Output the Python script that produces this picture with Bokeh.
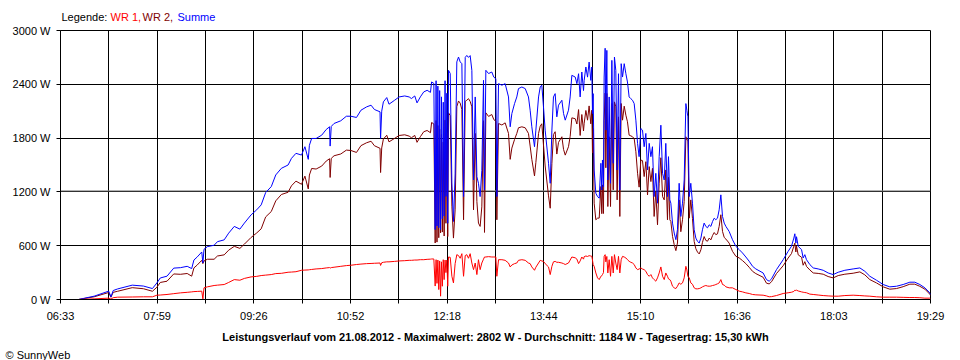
from bokeh.plotting import figure
from bokeh.layouts import column
from bokeh.models import Range1d, FixedTicker, Span, Title
from bokeh.core.properties import value
from bokeh.embed import file_html
from bokeh.resources import INLINE

# minutes after 06:33
t_min = [
    16, 30, 43, 45, 47, 51, 64, 74, 82, 86, 89, 95, 101, 107, 113, 117, 119, 122, 126, 127, 128, 131, 137, 140, 146, 150, 155,
    160, 164, 170, 175, 179, 183, 188, 192, 197, 203, 206, 210, 215, 218, 221, 222, 224, 228, 233, 237, 240, 240.5, 241.5, 244,
    250, 255, 259, 264, 268, 273, 277, 280, 285, 285.5, 286.5, 288, 291, 293, 298, 302, 307, 311,
    313, 316, 318, 321, 324, 327, 330, 331, 333, 334.2,
    335, 335.8, 336.6, 337.4, 338.2, 339, 339.8, 340.6, 341.4, 342.2,
    343, 343.8, 344.6, 345.4, 346.1, 347.6, 349.1, 350.5, 352, 353.5,
    355, 356.5, 358, 359.5, 361, 362.4, 363.9, 365.4, 366.9, 368.4,
    369.9, 371.4, 372.8, 374.3, 375.8, 377.3, 378.2, 379.4, 381.8, 384.7,
    386.5, 388.3, 389.2, 390.7, 393.7, 396.6, 399.6, 401.1, 402.6, 405,
    407, 408.5, 411.5, 414.5, 417.4, 418.9, 420.4, 422.8, 424, 426.4,
    427.9, 429.3, 430.8, 432.3, 435.3, 436.8, 438.3, 439.7, 441.2, 442.7,
    444.2, 447.2, 448.7, 450.2, 453.1, 454.6, 456.1, 459.1, 460.6, 462.1,
    463.5, 465,
    466.5, 467.1, 468.6, 470.1, 471.5, 473, 473.9, 474.5, 475.1, 476,
    477.5, 479, 480.5, 482, 482.8, 483.4, 484.3, 484.9, 485.8, 486.4,
    487.3, 488.2, 489.4, 490.6, 491.8, 493, 494.1, 495.3, 496.5, 497.7,
    498.9, 500.1, 501.3, 502.8, 504.3, 505.7, 507.2, 508.7, 510.2, 511.7,
    513.2, 514.7, 516.1, 517.6, 519.1, 520.6, 522.1, 523.6, 525.1, 526.6,
    528, 529.5, 531, 532.5, 534, 535.5, 537, 538.5, 539.9, 541.4,
    542.3, 543.5, 544.4, 545.9, 547.4, 548.9, 550.3, 551.8, 553.3, 554.8,
    556.3, 557.8, 558.7, 559.6, 560.8, 562.2, 563.7, 565.2, 566.7, 568.2,
    569.7, 571.2, 572.6, 574.1, 575.6, 577.1, 578.6, 580.1, 581.6, 583.1,
    584.5, 586, 587.5, 589, 590.5, 592, 593.5, 596.4, 599.4, 602.4,
    605.4, 608.3, 611.3, 614.3, 617.3, 620.2,
    626.7, 629.7, 632.1, 634.2, 638.6, 644.6, 649, 652, 654.1, 655,
    655.9, 656.5, 658, 661, 662.4, 663.9, 665.4, 668.4, 671.4, 675.8,
    680.3, 684.7, 689.2, 693.7, 699.6, 707, 713, 717.4, 721.9, 727.8,
    733.8, 739.7, 745.7, 751.6, 757.6, 762, 766.5, 771, 775.4, 776,
]

summe = [
    0, 37, 93, 30, 100, 118, 160, 150, 122, 185, 240, 260, 350, 355, 370, 345, 440, 475, 530, 407, 560, 590, 605, 645, 665, 740, 815,
    785, 852, 944, 1000, 1055, 1193, 1259, 1389, 1463, 1500, 1574, 1630, 1611, 1704, 1563, 1720, 1796, 1796, 1833, 1896, 1926, 1711, 1930, 1963,
    1993, 2044, 2044, 2030, 2111, 2148, 2167, 2119, 2093, 1796, 2100, 2204, 2252, 2178, 2222, 2259, 2270, 2259,
    2241, 2270, 2193, 2260, 2315, 2333, 2310, 2426, 2410, 780,
    2440, 820, 2380, 800, 2330, 780, 2260, 900, 2200, 930,
    2440, 1150, 2300, 850, 2556, 2520, 1300, 870, 1400, 2650,
    2704, 2650, 2630, 1148, 2700, 2722, 2700, 2720, 2556, 1333,
    2259, 1370, 1296, 1148, 1440, 2444, 1222, 2556, 2520, 2537,
    2480, 2463, 1148, 2407, 2390, 2407, 2259, 1926, 2074, 2185,
    2259, 2352, 2370, 2352, 2259, 2111, 1926, 1704, 1889, 2259,
    2370, 2390, 2148, 1889, 1519, 1296, 1889, 2259, 2296, 2037,
    2167, 2222, 2074, 2000, 2111, 2259, 2500, 2481, 2407, 2518,
    2259, 2537,
    2330, 2444, 2593, 2480, 2648, 2444, 2593, 2074, 2296, 1444,
    1185, 1148, 1130, 1519, 1222, 1556, 1259, 2481, 2802, 1889,
    2778, 1333, 2259, 1296, 2667, 1519, 2704, 2556, 1444, 2518,
    1222, 2630, 2481, 2630, 2518, 2426, 2259, 2240, 2222, 2185,
    2000, 1741, 1593, 1907, 1889, 1704, 1852, 1444, 1741, 1593,
    1704, 1148, 1407, 1074, 1593, 1944, 1407, 1333, 1741, 1148,
    1593, 1111, 1074, 852, 741, 667, 778, 1296, 926, 1074,
    1333, 2185, 2110, 2037, 1148, 1296, 1074, 778, 685, 648,
    630, 685, 778, 852, 815, 800, 833, 815, 870, 907,
    890, 907, 1000, 1167, 926, 852, 815, 759, 667, 593,
    556, 519, 474, 426, 370, 341,
    296, 222, 204, 230, 333, 444, 537, 593, 685, 733,
    630, 700, 593, 556, 463, 500, 444, 389, 352, 341,
    326, 296, 278, 304, 326, 341, 352, 315, 259, 215,
    167, 141, 148, 167, 193, 193, 167, 130, 74, 56,
]

wr1 = [
    0, 7, 15, 5, 20, 26, 28, 30, 30, 48, 50, 56, 65, 74, 80, 85, 88, 90, 93, 7, 130, 141, 156, 160, 167, 190, 222,
    215, 235, 252, 258, 267, 272, 278, 289, 292, 304, 306, 310, 326, 328, 330, 332, 335, 341, 345, 352, 356, 350, 356, 360,
    370, 378, 382, 390, 395, 400, 402, 404, 407, 380, 410, 415, 420, 420, 425, 430, 433, 437,
    437, 440, 440, 444, 444, 448, 450, 452, 452, 150,
    444, 180, 440, 111, 430, 37, 420, 148, 444, 222,
    440, 300, 440, 148, 474, 470, 259, 185, 400, 500,
    490, 460, 511, 259, 490, 500, 460, 511, 407, 333,
    407, 278, 444, 333, 407, 450, 474, 474, 478, 474,
    474, 474, 259, 444, 444, 437, 407, 363, 385, 400,
    407, 437, 444, 437, 407, 400, 363, 326, 360, 407,
    437, 430, 425, 400, 363, 278, 370, 420, 425, 415,
    415, 407, 400, 390, 407, 440, 474, 465, 450, 400,
    430, 474,
    450, 478, 485, 480, 489, 485, 482, 440, 389, 370,
    296, 241, 222, 259, 265, 278, 300, 481, 500, 420,
    480, 296, 444, 259, 481, 296, 500, 407, 333, 481,
    296, 444, 481, 474, 463, 444, 426, 415, 407, 390,
    352, 333, 340, 352, 340, 333, 315, 278, 259, 278,
    241, 222, 204, 241, 296, 363, 259, 222, 296, 259,
    230, 222, 204, 148, 130, 122, 148, 185, 170, 185,
    241, 370, 330, 259, 241, 185, 170, 130, 119, 119,
    122, 130, 141, 150, 156, 150, 148, 150, 156, 160,
    167, 175, 185, 222, 167, 160, 141, 130, 130, 111,
    93, 85, 74, 67, 56, 52,
    48, 40, 30, 32, 44, 67, 75, 81, 90, 104,
    100, 104, 95, 85, 81, 78, 75, 60, 56, 50,
    44, 40, 37, 37, 44, 48, 44, 40, 37, 30,
    26, 26, 26, 24, 22, 22, 20, 15, 15, 12,
]

wr2 = [
    0, 30, 78, 25, 80, 92, 132, 120, 92, 137, 190, 204, 285, 281, 290, 260, 352, 385, 437, 400, 430, 449, 449, 485, 498, 550, 593,
    570, 617, 692, 742, 788, 921, 981, 1100, 1171, 1196, 1268, 1320, 1285, 1376, 1233, 1388, 1461, 1455, 1488, 1544, 1570, 1361, 1574, 1603,
    1623, 1666, 1662, 1640, 1716, 1748, 1765, 1715, 1686, 1416, 1690, 1789, 1832, 1758, 1797, 1829, 1837, 1822,
    1804, 1830, 1753, 1816, 1871, 1885, 1860, 1974, 1958, 630,
    1996, 640, 1940, 689, 1900, 743, 1840, 752, 1756, 708,
    2000, 850, 1860, 702, 2082, 2050, 1041, 685, 1000, 2150,
    2214, 2190, 2119, 889, 2210, 2222, 2240, 2209, 2149, 1000,
    1852, 1092, 852, 815, 1033, 1994, 748, 2082, 2042, 2063,
    2006, 1989, 889, 1963, 1946, 1970, 1852, 1563, 1689, 1785,
    1852, 1915, 1926, 1915, 1852, 1711, 1563, 1378, 1529, 1852,
    1933, 1960, 1723, 1489, 1156, 1018, 1519, 1839, 1871, 1622,
    1752, 1815, 1674, 1610, 1704, 1819, 2026, 2016, 1957, 2118,
    1829, 2063,
    1880, 1966, 2108, 2000, 2159, 1959, 2111, 1634, 1907, 1074,
    889, 907, 908, 1260, 957, 1278, 959, 2000, 2302, 1469,
    2298, 1037, 1815, 1037, 2186, 1223, 2204, 2149, 1111, 2037,
    926, 2186, 2000, 2156, 2055, 1982, 1833, 1825, 1815, 1795,
    1648, 1408, 1253, 1555, 1549, 1371, 1537, 1166, 1482, 1315,
    1463, 926, 1203, 833, 1297, 1581, 1148, 1111, 1445, 889,
    1363, 889, 870, 704, 611, 545, 630, 1111, 756, 889,
    1092, 1815, 1780, 1778, 907, 1111, 904, 648, 566, 529,
    508, 555, 637, 702, 659, 650, 685, 665, 714, 747,
    723, 732, 815, 945, 759, 692, 674, 629, 537, 482,
    463, 434, 400, 359, 314, 289,
    248, 182, 174, 198, 289, 377, 462, 512, 595, 629,
    530, 596, 498, 471, 382, 422, 369, 329, 296, 291,
    282, 256, 241, 267, 282, 293, 308, 275, 222, 185,
    141, 115, 122, 143, 171, 171, 147, 115, 59, 44,
]

x_tick_labels = ["06:33", "07:59", "09:26", "10:52", "12:18", "13:44", "15:10", "16:36", "18:03", "19:29"]
y_tick_values = [0, 600, 1200, 1800, 2400, 3000]
y_tick_labels = ["0 W", "600 W", "1200 W", "1800 W", "2400 W", "3000 W"]
legend_parts = ["Legende:", "WR 1,", "WR 2,", "Summe"]
legend_colors = ["black", "#ff0000", "#800000", "#0000ff"]
footer_text = "Leistungsverlauf vom 21.08.2012 - Maximalwert: 2802 W - Durchschnitt: 1184 W - Tagesertrag: 15,30 kWh"
credit_text = "\u00a9 SunnyWeb"

SPAN_MIN = 776
N_COLS = 18
Y_MAX = 3000
PAGE_W = 960
FRAME_L, FRAME_R = 60, 930
TOP_H, MAIN_H = 24, 336
FONT = "Liberation Sans"

# --- top strip: multi-coloured legend text (its frame is aligned with the chart's frame)
top = figure(width=PAGE_W, height=TOP_H, output_backend="svg", toolbar_location=None,
             x_range=Range1d(FRAME_L, FRAME_R), y_range=Range1d(TOP_H, 0),
             x_axis_location=None, y_axis_location=None,
             min_border_left=FRAME_L, min_border_right=PAGE_W - FRAME_R,
             min_border_top=0, min_border_bottom=0,
             background_fill_color="white", border_fill_color="white")
top.grid.visible = False
top.outline_line_color = None
top.text(x=[61, 110, 142, 177], y=[16.5] * 4, text=legend_parts, text_color=legend_colors,
         text_font=value(FONT), text_font_size=value("11px"),
         text_align="left", text_baseline="middle")

# --- main chart
p = figure(width=PAGE_W, height=MAIN_H, output_backend="svg", toolbar_location=None,
           x_range=Range1d(0, SPAN_MIN), y_range=Range1d(0, Y_MAX),
           min_border_left=FRAME_L, min_border_right=PAGE_W - FRAME_R,
           min_border_top=6, min_border_bottom=60,
           background_fill_color="white", border_fill_color="white")

all_x = [i * SPAN_MIN / N_COLS for i in range(N_COLS + 1)]
major_x = all_x[0::2]
minor_x = all_x[1::2]

p.xaxis.ticker = FixedTicker(ticks=major_x, minor_ticks=minor_x)
p.xaxis.major_label_overrides = {major_x[i]: x_tick_labels[i] for i in range(len(major_x))}
p.yaxis.ticker = FixedTicker(ticks=y_tick_values)
p.yaxis.major_label_overrides = {y_tick_values[i]: y_tick_labels[i] for i in range(len(y_tick_values))}
p.xgrid.ticker = FixedTicker(ticks=all_x)
p.ygrid.ticker = FixedTicker(ticks=y_tick_values)

for ax in (p.xaxis, p.yaxis):
    ax.axis_line_color = "black"
    ax.major_tick_line_color = "black"
    ax.major_tick_out = 4
    ax.major_tick_in = 0
    ax.minor_tick_line_color = "black"
    ax.minor_tick_out = 4
    ax.minor_tick_in = 0
    ax.major_label_text_font = FONT
    ax.major_label_text_font_size = "11px"
    ax.major_label_text_color = "black"
    ax.major_label_standoff = 6
p.yaxis.minor_tick_line_color = None

for g in (p.xgrid, p.ygrid):
    g.grid_line_color = "black"
    g.grid_line_alpha = 1.0
    g.grid_line_width = 1

p.outline_line_color = "black"
p.outline_line_alpha = 1.0

p.add_layout(Span(location=1200 + Y_MAX / 270, dimension="width",
                  line_color="#808080", line_width=1, level="underlay"))

p.line(t_min, wr2, line_color="#800000", line_width=1)
p.line(t_min, summe, line_color="#0000ff", line_width=1)
p.line(t_min, wr1, line_color="#ff0000", line_width=1)

# --- summary line and credit below the chart
footer = Title(text=footer_text, align="center", offset=-15, standoff=8,
               text_font=FONT, text_font_size="11px", text_font_style="bold", text_color="black")
credit = Title(text=credit_text, align="left", offset=-55, standoff=0,
               text_font=FONT, text_font_size="11px", text_font_style="normal", text_color="black")
p.add_layout(footer, "below")
p.add_layout(credit, "below")

layout = column(top, p, spacing=0)
open("out.html", "w").write(file_html(layout, INLINE))
